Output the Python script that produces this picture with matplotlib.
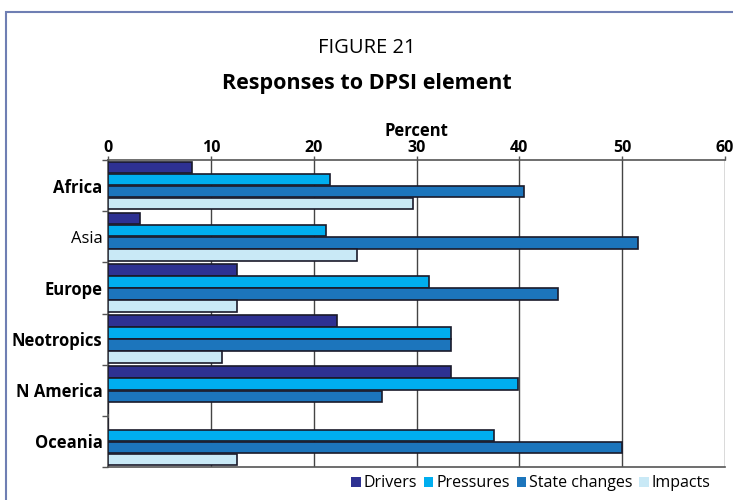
import matplotlib.pyplot as plt
import numpy as np
from matplotlib.patches import Rectangle

regions = ['Africa', 'Asia', 'Europe', 'Neotropics', 'N America', 'Oceania']
bold_regions = [True, False, True, True, True, True]
drivers = [8.2, 3.1, 12.5, 22.3, 33.4, 0]
pressures = [21.6, 21.2, 31.2, 33.4, 39.9, 37.5]
state_changes = [40.5, 51.5, 43.8, 33.4, 26.6, 50.0]
impacts = [29.7, 24.2, 12.5, 11.1, 0, 12.5]
series_names = ['Drivers', 'Pressures', 'State changes', 'Impacts']
colors = ['#2e3192', '#00aeef', '#1c75bc', '#c9e9f6']

plt.rcParams['font.family'] = ['Open Sans', 'DejaVu Sans']

fig = plt.figure(figsize=(7.33, 5), dpi=100)

# frame around the figure (clipped at right and bottom like the source)
fig.patches.append(Rectangle((6 / 733, -0.05), 1.2, 1 - 12 / 500 + 0.05,
                             transform=fig.transFigure, fill=False,
                             edgecolor='#6f7fb3', linewidth=1.5))

fig.text(0.5, 1 - 48 / 500, 'FIGURE 21', ha='center', va='center', fontsize=14.5)
fig.text(0.5, 1 - 83 / 500, 'Responses to DPSI element', ha='center', va='center',
         fontsize=15.5, fontweight='bold')

ax = fig.add_axes([108 / 733, 1 - 467 / 500, (725 - 108) / 733, (467 - 160) / 500])

y = np.arange(len(regions))
offsets = [-0.353, -0.118, 0.118, 0.353]
data = [drivers, pressures, state_changes, impacts]
for vals, off, c, name in zip(data, offsets, colors, series_names):
    ax.barh(y + off, vals, height=0.225, color=c, edgecolor='#1a1a2a',
            linewidth=1.2, label=name, zorder=3)

ax.set_xlim(0, 60)
ax.set_ylim(len(regions) - 0.5, -0.5)
ax.set_xticks(range(0, 61, 10))
ax.xaxis.tick_top()
ax.xaxis.set_label_position('top')
ax.set_xlabel('Percent', fontsize=12, fontweight='bold', labelpad=3)
ax.tick_params(axis='x', length=3, width=1, labelsize=11.5, pad=0, colors='#555555',
               labelcolor='black')
for lbl in ax.get_xticklabels():
    lbl.set_fontweight('bold')

ax.set_yticks(np.arange(-0.5, len(regions), 1), minor=False)
ax.set_yticklabels([])
ax.set_yticks(y, minor=True)
ax.set_yticklabels(regions, minor=True)
ax.tick_params(axis='y', which='major', length=4, width=1, colors='#555555')
ax.tick_params(axis='y', which='minor', length=0, labelsize=12, pad=4)
for lbl, b in zip(ax.get_yticklabels(minor=True), bold_regions):
    lbl.set_fontweight('bold' if b else 'normal')

ax.grid(axis='x', color='#444444', linewidth=1, zorder=0)
ax.spines['right'].set_visible(False)
for s in ['top', 'bottom', 'left']:
    ax.spines[s].set_color('#555555')
    ax.spines[s].set_linewidth(1.2)

leg = fig.legend(loc='lower right', bbox_to_anchor=(0.985, -0.005), ncol=4, frameon=False,
                 fontsize=11.5, handlelength=0.6, handleheight=0.6, handletextpad=0.2,
                 columnspacing=0.4, borderaxespad=0.3)
for h in leg.legend_handles:
    h.set_edgecolor('none')

fig.savefig('out.png', dpi=100)
